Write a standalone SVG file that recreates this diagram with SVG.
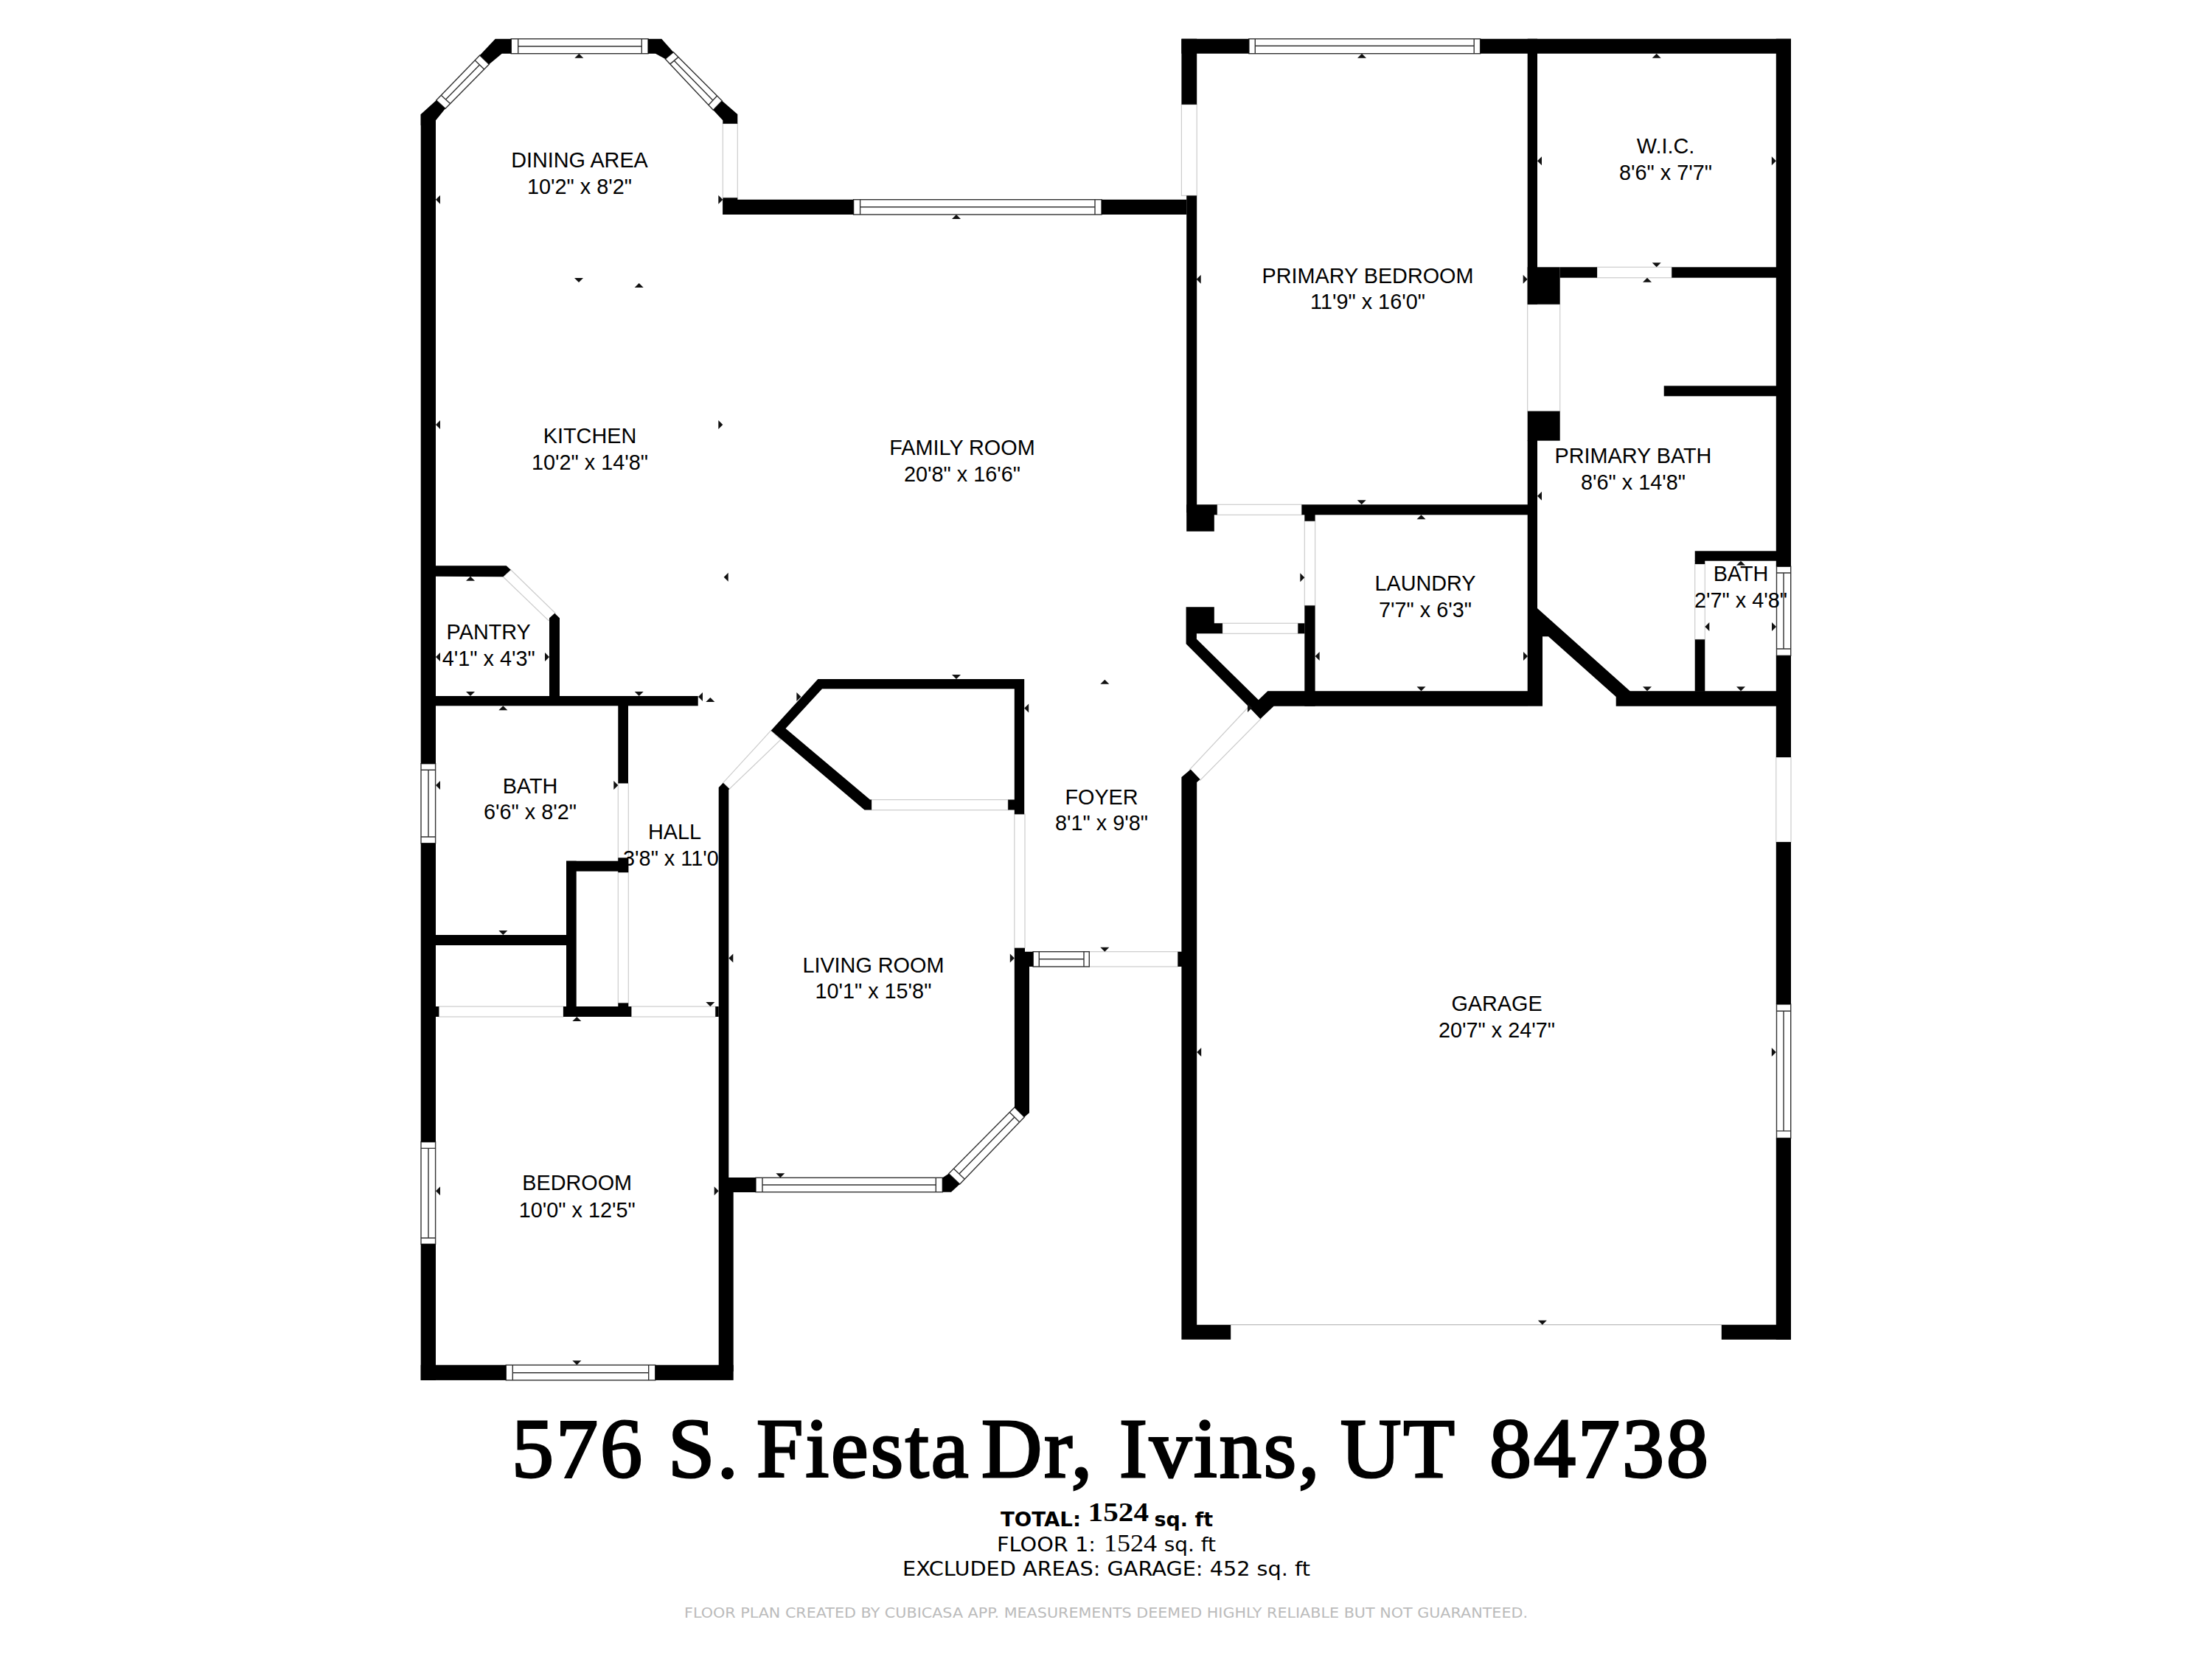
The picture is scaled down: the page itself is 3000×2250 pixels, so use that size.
<svg xmlns="http://www.w3.org/2000/svg" xmlns:xlink="http://www.w3.org/1999/xlink" width="3000" height="2250" viewBox="0 0 3000 2250">
<style>
.door{fill:#fff;stroke:#ccc;stroke-width:1.2}
.doorline{fill:none;stroke:#bbb;stroke-width:1.2}
.win{fill:#fff;stroke:#333;stroke-width:1.4}
.winl{fill:none;stroke:#333;stroke-width:1.4}
.room{font-family:"Liberation Sans",Arial,sans-serif;font-size:28.8px;fill:#000;text-anchor:middle}
.wall{fill:#000}
.mk{fill:#111}
.title{font-family:"Liberation Serif","Times New Roman",serif;font-size:114px;letter-spacing:3px;fill:#000;stroke:#000;stroke-width:3}
.sub{font-family:"DejaVu Sans",sans-serif;font-size:26px;fill:#000}
.subn{font-family:"Liberation Serif",serif;font-size:33px;fill:#000}
.foot{font-family:"DejaVu Sans",sans-serif;font-size:19.5px;fill:#bbb}
</style>
<defs>
<path id="u" d="M0 0L6 6L-6 6Z"/>
<path id="d" d="M0 0L6 -6L-6 -6Z"/>
<path id="l" d="M0 0L6 -6L6 6Z"/>
<path id="r" d="M0 0L-6 -6L-6 6Z"/>
</defs>
<rect width="3000" height="2250" fill="#fff"/>
<g id="doors">
<rect class="door" x="980.3" y="167.7" width="20" height="100.6"/>
<rect class="door" x="1602.4" y="141.7" width="20.8" height="123.6"/>
<polygon class="door" points="692.7,772.7 753.3,831.7 744,841.7 682.3,782.3"/>
<polygon class="door" points="980.7,1061.7 989.3,1070 1059,1003 1045.7,990.7"/>
<rect class="door" x="838.3" y="1062.3" width="14" height="298"/>
<rect class="door" x="595.3" y="1365" width="168.7" height="14"/>
<rect class="door" x="856.3" y="1365" width="114" height="14"/>
<rect class="door" x="1182" y="1084.6" width="185.2" height="14"/>
<rect class="door" x="1375.8" y="1104.3" width="14.2" height="181.4"/>
<rect class="door" x="1477.3" y="1290.7" width="120.1" height="20.3"/>
<polygon class="door" points="1613.2,1044 1627.5,1058.3 1710,975 1694,958"/>
<rect class="door" x="1650.7" y="684.3" width="114.7" height="14"/>
<rect class="door" x="1657.9" y="845.3" width="102.5" height="14"/>
<rect class="door" x="1769.3" y="706.7" width="14.3" height="114.6"/>
<rect class="door" x="2166" y="362.3" width="101.3" height="14.4"/>
<rect class="door" x="2071.7" y="412.7" width="44" height="145"/>
<rect class="door" x="2298.7" y="765" width="13.6" height="102.3"/>
<rect class="door" x="2408.8" y="1027" width="20.2" height="115"/>
<line class="doorline" x1="1669.2" y1="1796.7" x2="2334.8" y2="1796.7"/>
</g>
<g id="windows">
<rect class="win" x="693.3" y="52.7" width="185.7" height="20"/>
<path class="winl" d="M702.7 52.7V72.7M870.3 52.7V72.7M702.7 62.7H870.3"/>
<polygon class="win" points="591.7,136 604,147.3 663.3,87.3 650.7,75"/>
<path class="winl" d="M598.3 129.2L610.6 140.5M644.1 81.8L656.7 94.1M604.4 134.9L650.4 87.9"/>
<polygon class="win" points="902.3,80 913.3,70.7 979.3,136.7 967.3,149.3"/>
<path class="winl" d="M908.8 86.9L919.8 77.6M960.8 142.4L972.8 129.8M914.3 82.2L966.8 136.1"/>
<rect class="win" x="1157.6" y="270.7" width="336.4" height="20.3"/>
<path class="winl" d="M1166.6 270.7V291M1485 270.7V291M1166.6 280.8H1485"/>
<rect class="win" x="1693.9" y="52.7" width="313.7" height="20"/>
<path class="winl" d="M1702.3 52.7V72.7M1999.2 52.7V72.7M1702.3 62.3H1999.2"/>
<rect class="win" x="571" y="1035.7" width="19.6" height="108"/>
<path class="winl" d="M571 1044.3H590.6M571 1135H590.6M581 1044.3V1135"/>
<rect class="win" x="571" y="1548.7" width="19.6" height="138.6"/>
<path class="winl" d="M571 1557.4H590.6M571 1679H590.6M581 1557.4V1679"/>
<rect class="win" x="686.3" y="1851.3" width="202.4" height="20.6"/>
<path class="winl" d="M695.3 1851.3V1871.9M879.7 1851.3V1871.9M695.3 1861.8H879.7"/>
<rect class="win" x="1025" y="1597.3" width="253.3" height="19.4"/>
<path class="winl" d="M1034 1597.3V1616.7M1269.3 1597.3V1616.7M1034 1607H1269.3"/>
<polygon class="win" points="1286.7,1591.7 1301.7,1606 1389.3,1515 1376,1501.7"/>
<path class="winl" d="M1293.4 1585L1308.4 1599.3M1369.3 1508.4L1382.6 1521.7M1300.9 1592.1L1376 1515"/>
<rect class="win" x="1401.2" y="1290.7" width="76.1" height="20.3"/>
<path class="winl" d="M1409.3 1290.7V1311M1470 1290.7V1311M1409.3 1300.7H1470"/>
<rect class="win" x="2409.5" y="768.3" width="19.2" height="121"/>
<path class="winl" d="M2409.5 777H2428.7M2409.5 880H2428.7M2419 777V880"/>
<rect class="win" x="2409.5" y="1362" width="19.2" height="181.6"/>
<path class="winl" d="M2409.5 1371.3H2428.7M2409.5 1533.9H2428.7M2419 1371.3V1533.9"/>
</g>
<g id="labels">
<text class="room" x="786" y="226.7">DINING AREA</text><text class="room" x="786" y="262.7">10'2" x 8'2"</text>
<text class="room" x="800" y="601">KITCHEN</text><text class="room" x="800" y="637">10'2" x 14'8"</text>
<text class="room" x="1305" y="617">FAMILY ROOM</text><text class="room" x="1305" y="653">20'8" x 16'6"</text>
<text class="room" x="1855" y="384.3">PRIMARY BEDROOM</text><text class="room" x="1855" y="419.3">11'9" x 16'0"</text>
<text class="room" x="2259" y="208.3">W.I.C.</text><text class="room" x="2259" y="243.8">8'6" x 7'7"</text>
<text class="room" x="2215" y="627.7">PRIMARY BATH</text><text class="room" x="2215" y="663.7">8'6" x 14'8"</text>
<text class="room" x="662.7" y="866.7">PANTRY</text><text class="room" x="662.7" y="902.7">4'1" x 4'3"</text>
<text class="room" x="719" y="1075.7">BATH</text><text class="room" x="719" y="1111">6'6" x 8'2"</text>
<text class="room" x="915" y="1138.3">HALL</text><text class="room" x="915" y="1174">3'8" x 11'0"</text>
<text class="room" x="782.7" y="1614.3">BEDROOM</text><text class="room" x="782.7" y="1651">10'0" x 12'5"</text>
<text class="room" x="1184.4" y="1318.6">LIVING ROOM</text><text class="room" x="1184.4" y="1353.6">10'1" x 15'8"</text>
<text class="room" x="1494" y="1091.4">FOYER</text><text class="room" x="1494" y="1126.4">8'1" x 9'8"</text>
<text class="room" x="1933" y="801">LAUNDRY</text><text class="room" x="1933" y="836.7">7'7" x 6'3"</text>
<text class="room" x="2361" y="788.3">BATH</text><text class="room" x="2361" y="824">2'7" x 4'8"</text>
<text class="room" x="2030" y="1370.7">GARAGE</text><text class="room" x="2030" y="1406.5">20'7" x 24'7"</text>
</g>
<g id="walls" class="wall">
<rect x="570.7" y="155" width="20.3" height="880.7"/>
<rect x="570.7" y="1143.7" width="20.3" height="405"/>
<rect x="570.7" y="1687.3" width="20.3" height="184.7"/>
<polygon points="570.7,155 591.7,136 604,147.3 591,163.3 591,170 570.7,170"/>
<polygon points="650.7,75 671.7,52.7 693.3,52.7 693.3,72.7 680.7,72.7 663.3,87.3"/>
<polygon points="879,52.7 897.3,52.7 913.3,70.7 902.3,80 889,72.7 879,72.7"/>
<polygon points="967.3,149.3 979.3,136.7 1000.3,155 1000.3,167.7 980.3,167.7 980.3,163.3"/>
<rect x="980.3" y="268.3" width="20" height="22.7"/>
<rect x="980.3" y="270.7" width="177.3" height="20.3"/>
<rect x="1494" y="270.7" width="115.2" height="20.3"/>
<rect x="570.7" y="1851.3" width="115.6" height="20.6"/>
<rect x="888.7" y="1851.3" width="106" height="20.6"/>
<polygon points="974.7,1068 980.7,1061.7 989.3,1070 988.3,1071 988.3,1597 1025,1597 1025,1617 994.7,1617 994.7,1860 974.7,1860"/>
<polygon points="591,767.3 686.7,767.3 692.7,772.7 682.3,782.3 591,781.7"/>
<polygon points="745,838.3 752.3,831.7 759,838.3 759,944 745,944"/>
<rect x="591" y="944" width="355.7" height="13.3"/>
<rect x="838.3" y="957" width="13.7" height="105.3"/>
<rect x="838.3" y="1163.3" width="14" height="20"/>
<rect x="768" y="1167.7" width="84" height="14"/>
<rect x="768" y="1167.7" width="13.7" height="200"/>
<rect x="591" y="1268" width="177" height="14"/>
<rect x="591" y="1365" width="4.3" height="14"/>
<rect x="764" y="1365" width="92.3" height="14"/>
<rect x="838.3" y="1360.4" width="14" height="18.6"/>
<rect x="970.3" y="1365" width="4.4" height="14"/>
<polygon points="1109.3,921 1389.2,921 1389.2,1104.3 1375.8,1104.3 1375.8,1098.6 1367.2,1098.6 1367.2,1084.6 1375.8,1084.6 1375.8,934.3 1115,934.3 1065.5,988 1180,1084.6 1182,1084.6 1182,1098.6 1172.5,1098.6 1060,1003 1045.7,990.7"/>
<polygon points="1278.3,1597.3 1286.7,1591.7 1301.7,1606 1290,1616.7 1278.3,1616.7"/>
<polygon points="1375.8,1285.7 1390,1285.7 1390,1290.7 1401.2,1290.7 1401.2,1311 1396,1311 1396,1509.3 1389.3,1515 1376,1501.7"/>
<rect x="1597.4" y="1290.7" width="6" height="20.3"/>
<polygon points="1602.4,1054 1614.8,1043.4 1627.7,1057 1623.2,1061 1623.2,1796.7 1669.2,1796.7 1669.2,1816.8 1602.4,1816.8"/>
<rect x="2334.8" y="1796.7" width="94.2" height="20.1"/>
<rect x="2408.8" y="52.7" width="20.2" height="715.6"/>
<rect x="2408.8" y="889.3" width="20.2" height="137.7"/>
<rect x="2408.8" y="1142" width="20.2" height="220"/>
<rect x="2408.8" y="1543.6" width="20.2" height="273.2"/>
<rect x="1602.4" y="52.7" width="91.5" height="20"/>
<rect x="2007.6" y="52.7" width="421.4" height="20"/>
<rect x="1602.4" y="52.7" width="20.8" height="89"/>
<rect x="1609.2" y="265.3" width="14" height="430"/>
<rect x="1609.2" y="684.3" width="41.5" height="14"/>
<rect x="1609.2" y="698" width="37.6" height="22.7"/>
<rect x="1765.4" y="684.3" width="319.6" height="14"/>
<rect x="1769.3" y="698" width="14.3" height="8.7"/>
<rect x="1769.3" y="821.3" width="14.3" height="136.4"/>
<rect x="1760.4" y="845.3" width="9" height="14"/>
<polygon points="1608.6,823.3 1646.8,823.3 1646.8,845.3 1657.9,845.3 1657.9,859.3 1622.9,859.3 1622.9,866.7 1706.8,949.3 1719.3,937.3 2072,937.3 2072,957.7 1727.5,957.7 1709.3,975 1694,959 1608.6,873.3"/>
<rect x="2071.7" y="52.7" width="13.3" height="360"/>
<rect x="2071.7" y="362.3" width="44" height="50.4"/>
<rect x="2071.7" y="557.7" width="44" height="40"/>
<rect x="2071.7" y="597" width="13.3" height="345"/>
<rect x="2072" y="860" width="20" height="97.7"/>
<rect x="2115.7" y="362.3" width="50.3" height="14.4"/>
<rect x="2267.3" y="362.3" width="141.7" height="14.4"/>
<rect x="2256.7" y="523.3" width="152.3" height="14"/>
<rect x="2298.7" y="747.3" width="110.3" height="13.4"/>
<rect x="2298.7" y="760" width="13.6" height="5"/>
<rect x="2298.7" y="867.3" width="13.6" height="70.5"/>
<polygon points="2085,825 2210.7,937.3 2409,937.3 2409,957.7 2191.7,957.7 2191.7,945 2100,863.3 2085,863.3"/>
</g>
<g id="markers" class="mk">
<use href="#u" x="785.3" y="72.7"/><use href="#l" x="591" y="270.7"/><use href="#r" x="980.3" y="270.7"/>
<use href="#d" x="785" y="383"/><use href="#u" x="866.7" y="384"/><use href="#u" x="1297" y="291"/>
<use href="#u" x="1847" y="72.7"/><use href="#u" x="2246.7" y="72.7"/><use href="#l" x="2085" y="218.3"/><use href="#r" x="2408.8" y="218.3"/>
<use href="#d" x="2246.7" y="362.3"/><use href="#u" x="2234" y="376.7"/><use href="#r" x="2071.7" y="378.7"/><use href="#l" x="1622.7" y="378.7"/>
<use href="#d" x="1846.7" y="684.3"/><use href="#l" x="2085" y="672.7"/><use href="#l" x="591" y="576"/><use href="#r" x="980.3" y="576"/><use href="#l" x="981.7" y="782.7"/>
<use href="#u" x="638" y="781.7"/><use href="#l" x="591" y="891"/><use href="#r" x="745" y="891"/><use href="#d" x="638" y="944"/><use href="#u" x="682.3" y="957.3"/>
<use href="#d" x="866.7" y="944"/><use href="#l" x="947" y="945"/><use href="#u" x="963.3" y="946"/><use href="#l" x="591" y="1065"/><use href="#r" x="838.3" y="1065"/>
<use href="#d" x="682.3" y="1268"/><use href="#d" x="963.3" y="1365"/><use href="#u" x="782.3" y="1379"/><use href="#l" x="591" y="1615.3"/><use href="#r" x="974.7" y="1615.3"/><use href="#d" x="782.3" y="1851.3"/>
<use href="#d" x="1297" y="921"/><use href="#r" x="1086.4" y="945"/><use href="#l" x="1389.2" y="960.4"/><use href="#u" x="1498.3" y="921.8"/><use href="#r" x="1698" y="960"/>
<use href="#l" x="988.3" y="1299.5"/><use href="#r" x="1375.8" y="1299.5"/><use href="#d" x="1498.3" y="1290.7"/><use href="#l" x="1623.2" y="1427"/><use href="#r" x="2408.8" y="1427"/><use href="#d" x="2091.8" y="1796.7"/><use href="#d" x="1058.3" y="1597.3"/>
<use href="#u" x="1927.5" y="698.3"/><use href="#r" x="1769.3" y="783.3"/><use href="#l" x="1783.6" y="890"/><use href="#r" x="2072" y="890"/><use href="#d" x="1927.5" y="937.3"/>
<use href="#u" x="2361" y="760.7"/><use href="#l" x="2312.3" y="850"/><use href="#r" x="2409" y="850"/><use href="#d" x="2234" y="937.3"/><use href="#d" x="2361" y="937.3"/>
</g>
<g id="caption">
<text class="title" y="2003"><tspan x="694">576 </tspan><tspan x="906">S. </tspan><tspan x="1026">Fiesta </tspan><tspan x="1331">Dr, </tspan><tspan x="1518">Ivins, </tspan><tspan x="1818">UT </tspan><tspan x="2020">84738</tspan></text>
<text class="sub" font-weight="700" x="1357" y="2070" textLength="109" lengthAdjust="spacingAndGlyphs">TOTAL:</text>
<text class="subn" font-weight="700" style="font-size:36px" x="1475.6" y="2063" textLength="82.4" lengthAdjust="spacingAndGlyphs">1524</text>
<text class="sub" font-weight="700" x="1565.6" y="2070" textLength="79.4" lengthAdjust="spacingAndGlyphs">sq. ft</text>
<text class="sub" x="1352" y="2104" textLength="134" lengthAdjust="spacingAndGlyphs">FLOOR 1:</text>
<text class="subn" x="1497" y="2104" textLength="72" lengthAdjust="spacingAndGlyphs">1524</text>
<text class="sub" x="1578.7" y="2104" textLength="70.3" lengthAdjust="spacingAndGlyphs">sq. ft</text>
<text class="sub" x="1224" y="2136.7" textLength="553" lengthAdjust="spacingAndGlyphs">EXCLUDED AREAS: GARAGE: 452 sq. ft</text>
<text class="foot" x="928" y="2194" textLength="1144" lengthAdjust="spacingAndGlyphs">FLOOR PLAN CREATED BY CUBICASA APP. MEASUREMENTS DEEMED HIGHLY RELIABLE BUT NOT GUARANTEED.</text>
</g>
</svg>
